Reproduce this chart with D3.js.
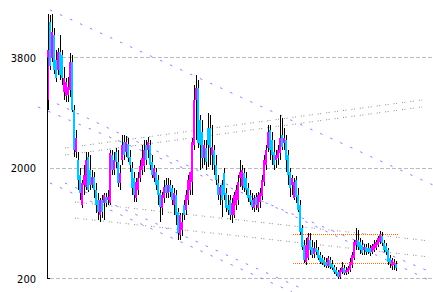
<!DOCTYPE html>
<html>
<head>
<meta charset="utf-8">
<script src="https://cdn.jsdelivr.net/npm/d3@7"></script>
<style>
  html, body { margin: 0; padding: 0; background: #fff; }
  svg { display: block; }
</style>
</head>
<body>
<div id="chart"></div>
<script>
// weekly candles, left to right
var opens = [
  3100,4370,3780,4160,3750,3590,3880,3830,3230,3170,
  3180,3260,3720,2940,2250,2120,1880,1390,1720,1680,
  2170,1960,1720,1850,1630,1470,1230,1470,1420,1520,
  1470,1420,2210,1960,2250,2090,1750,2120,2420,2250,
  2380,2170,1990,1830,1500,1630,1830,1960,2030,2370,
  2290,2370,2090,1830,1930,1800,1590,1340,1500,1720,
  1590,1720,1670,1390,1550,1270,900,980,1390,1310,
  1470,1630,1760,2370,3100,3300,2770,2580,2160,2320,
  2640,2640,2210,2290,2040,1750,1550,1720,1910,1590,
  1390,1470,1230,1230,1390,1470,1830,1700,1910,1830,
  1670,1550,1470,1340,1520,1340,1440,1540,1760,2040,
  2320,2610,2450,2250,2120,2160,2240,2530,2400,2450,
  2210,1930,1720,1500,1800,1550,1390,1020,740,460,
  530,820,710,590,690,660,580,530,490,460,
  400,490,430,380,330,300,220,300,360,280,
  300,330,410,530,740,820,790,740,660,710,
  690,690,630,660,690,740,790,880,770,720,
  660,530,400,410,430
];
var highs = [
  4500,4490,4500,4270,3910,3950,4160,3910,3640,3460,
  3480,3860,3830,3020,2610,2250,1990,1800,2040,2250,
  2250,2210,1960,1930,1750,1590,1500,1550,1590,1590,
  1630,2290,2290,2250,2320,2290,2040,2530,2530,2510,
  2480,2290,2090,1930,1830,1930,2120,2370,2450,2450,
  2500,2450,2210,2040,1990,1880,1630,1600,1800,1830,
  1830,1800,1720,1670,1630,1340,1260,1260,1470,1630,
  1880,1930,2480,3350,3510,3430,2860,2770,2450,2450,
  2890,2860,2690,2370,2210,1880,1720,1800,1990,1670,
  1550,1550,1500,1600,1720,1880,2120,2040,1990,1930,
  1750,1630,1590,1550,1590,1600,1670,1880,2210,2370,
  2690,2690,2580,2450,2290,2370,2860,2810,2640,2530,
  2290,1990,1880,1830,1860,1670,1470,1060,820,850,
  930,930,820,790,820,710,630,580,540,530,
  560,540,490,410,380,330,360,460,410,380,
  400,530,630,820,1020,980,850,820,760,760,
  770,740,760,820,820,880,970,950,820,770,
  690,580,530,510,480
];
var lows = [
  2940,3590,3720,3520,3390,3510,3430,3350,3100,3070,
  3070,3150,2910,2170,2160,1630,1470,1340,1550,1630,
  1600,1630,1670,1500,1260,1150,1110,1180,1150,1360,
  1390,1390,1880,1880,1990,1680,1630,2040,2120,2170,
  2090,1930,1550,1440,1440,1550,1760,1880,1930,2040,
  2160,1960,1830,1760,1630,1390,1110,1230,1420,1500,
  1500,1520,1390,1230,1060,820,820,880,1150,1230,
  1390,1550,1550,2290,2450,2320,1960,1990,2040,1960,
  2010,2040,1960,1880,1720,1470,1390,1190,1470,1270,
  1230,1150,1100,1180,1310,1390,1680,1630,1600,1550,
  1440,1390,1310,1270,1310,1270,1340,1470,1700,1960,
  2250,2120,2040,1960,1990,2040,2120,2290,2290,1930,
  1720,1520,1550,1470,1420,1270,900,660,450,410,
  490,580,530,530,580,490,430,410,380,360,
  360,350,330,270,230,180,180,270,250,250,
  270,300,360,490,660,660,590,580,580,580,
  590,560,590,630,660,710,760,720,630,580,
  410,360,330,330,310
];
var closes = [
  3910,3650,4210,3590,3460,3880,3510,3460,3460,3390,
  3310,3720,2940,2290,2480,1800,1590,1750,1880,2120,
  1630,1720,1850,1630,1390,1270,1470,1270,1550,1420,
  1520,2240,1960,2120,2090,1750,1910,2370,2210,2420,
  2160,2040,1670,1550,1760,1830,2030,2160,2290,2120,
  2420,2040,1880,1990,1720,1550,1360,1550,1680,1590,
  1720,1600,1470,1590,1230,930,1230,1110,1230,1550,
  1800,1930,2420,3100,3300,2400,2370,2160,2370,2090,
  2370,2320,2330,2040,1800,1550,1680,1470,1550,1340,
  1310,1230,1420,1550,1630,1760,1930,1960,1670,1630,
  1500,1440,1360,1500,1390,1550,1590,1800,2120,2290,
  2580,2290,2210,2040,2210,2290,2480,2330,2480,2120,
  1880,1670,1830,1760,1520,1310,950,710,490,740,
  870,660,580,690,630,530,460,450,410,400,
  530,380,360,300,270,220,330,380,280,330,
  360,460,580,790,820,710,660,610,710,630,
  630,610,720,760,790,850,920,770,660,630,
  460,430,490,460,360
];

var yTicks = [200, 2000, 3800];

// trend lines: [start index, start price, end index, end price]
var purpleLines = [
  [1.5, 4566, 193, 1715],
  [0, 3116, 193, 135],
  [-4.5, 2986, 193, 281],
  [1.5, 1748, 122.5, -28],
  [9, 1748, 129, 5]
];
var grayLines = [
  [9, 2318, 187.5, 3100],
  [9, 2204, 187.5, 2986],
  [14, 1438, 191.5, 803],
  [14, 1177, 191.5, 542]
];
// horizontal range box on the last leg
var boxLevels = [912, 440];
var boxSpan = [123, 175.5];

var width = 433, height = 292;

var svg = d3.select("#chart")
  .append("svg")
  .attr("width", width)
  .attr("height", height);

var x = d3.scaleLinear().domain([0, 193]).range([47, 433]);
var y = d3.scaleLinear().domain([200, 3800]).range([278, 57]);

// gridlines
svg.append("g")
  .selectAll("line")
  .data(yTicks)
  .enter()
  .append("line")
  .attr("x1", x(0) + 3)
  .attr("x2", width)
  .attr("y1", function(d) { return Math.round(y(d)) + 0.5 })
  .attr("y2", function(d) { return Math.round(y(d)) + 0.5 })
  .style("stroke", "#bdbdbd")
  .style("stroke-dasharray", "4,2");

function drawSegs(data, color, dash) {
  svg.append("g")
    .selectAll("line")
    .data(data)
    .enter()
    .append("line")
    .attr("x1", function(d) { return x(d[0]) })
    .attr("y1", function(d) { return y(d[1]) })
    .attr("x2", function(d) { return x(d[2]) })
    .attr("y2", function(d) { return y(d[3]) })
    .style("stroke", color)
    .style("stroke-width", 1)
    .style("stroke-dasharray", dash);
}
drawSegs(grayLines, "#8c8c8c", "1,1.5,1,5");
drawSegs(purpleLines, "#8585ff", "2.5,8.5");

// candles: body 2px, wick on its right column
var idx = d3.range(closes.length);
var cg = svg.append("g").attr("shape-rendering", "crispEdges");

cg.selectAll(".wick")
  .data(idx)
  .enter()
  .append("rect")
  .attr("class", "wick")
  .attr("x", function(i) { return Math.round(x(i)) + 1 })
  .attr("y", function(i) { return y(highs[i]) })
  .attr("width", 1)
  .attr("height", function(i) { return y(lows[i]) - y(highs[i]) })
  .style("fill", "#000");

cg.selectAll(".body")
  .data(idx)
  .enter()
  .append("rect")
  .attr("class", "body")
  .attr("x", function(i) { return Math.round(x(i)) })
  .attr("y", function(i) { return y(Math.max(opens[i], closes[i])) })
  .attr("width", 2)
  .attr("height", function(i) {
    return Math.max(1, Math.abs(y(opens[i]) - y(closes[i])))
  })
  .style("fill", function(i) {
    return closes[i] >= opens[i] ? "#ff00ff" : "#00c8ff"
  });

// range box levels
svg.append("g")
  .selectAll("line")
  .data(boxLevels)
  .enter()
  .append("line")
  .attr("x1", x(boxSpan[0]))
  .attr("x2", x(boxSpan[1]))
  .attr("y1", function(d) { return Math.round(y(d)) + 0.5 })
  .attr("y2", function(d) { return Math.round(y(d)) + 0.5 })
  .style("stroke", "#ff6a00")
  .style("stroke-dasharray", "1,1");

// y axis
var yAxis = svg.append("g")
  .attr("transform", "translate(" + x(0) + ",0)")
  .call(d3.axisLeft(y)
    .tickValues(yTicks)
    .tickSize(0)
    .tickSizeOuter(0)
    .tickPadding(11)
    .tickFormat(d3.format("d")));
yAxis.selectAll("text")
  .style("font-family", "'DejaVu Sans Condensed', 'Liberation Sans Narrow', 'Liberation Sans', sans-serif")
  .style("font-stretch", "condensed")
  .style("font-size", "11px")
  .attr("dy", "0.4em")
  .style("fill", "#000");

// little foot at the bottom of the axis
svg.append("line")
  .attr("x1", x(0))
  .attr("x2", x(0) + 3)
  .attr("y1", y(200) + 0.5)
  .attr("y2", y(200) + 0.5)
  .style("stroke", "#000");
</script>
</body>
</html>
